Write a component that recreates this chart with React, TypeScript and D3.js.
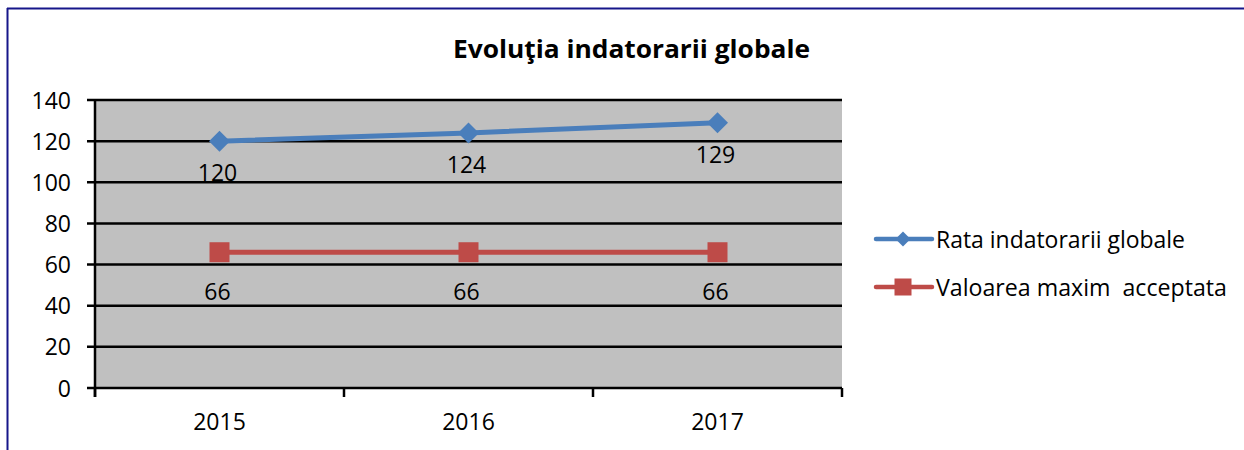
import React from "react";
import * as d3 from "d3";

const categories = ["2015", "2016", "2017"];
const rataValues = [120, 124, 129];
const maximValues = [66, 66, 66];
const yTicks = [0, 20, 40, 60, 80, 100, 120, 140];
const titleText = "Evoluţia indatorarii globale";
const seriesNames = ["Rata indatorarii globale", "Valoarea maxim  acceptata"];

const BLUE = "#4A7EBB";
const RED = "#BE4B48";
const FONT = "'Open Sans', 'Noto Sans', sans-serif";

export default function App() {
  const W = 1244, H = 450;
  const left = 95, right = 842, top = 100, bottom = 388;
  const x = d3.scaleBand<string>().domain(categories).range([left, right]).padding(0);
  const y = d3.scaleLinear().domain([0, 140]).range([bottom, top]);
  const cx = (c: string) => (x(c) ?? 0) + x.bandwidth() / 2;
  const line = d3.line<number>().x((_, i) => cx(categories[i])).y((v) => y(v));
  const diamond = (px: number, py: number, r: number) =>
    `M${px},${py - r}L${px + r},${py}L${px},${py + r}L${px - r},${py}Z`;
  const boundaries = [...categories.map((c) => x(c) ?? 0), right];

  return (
    <svg width={W} height={H} style={{ position: "absolute", left: 0, top: 0, background: "#fff" }}
      fontFamily={FONT}>
      <rect x={0} y={0} width={W} height={H} fill="#fff" />
      {/* outer border */}
      <line x1={7.5} y1={8} x2={7.5} y2={H} stroke="#16168A" strokeWidth={2} />
      <line x1={7} y1={8.5} x2={W} y2={8.5} stroke="#16168A" strokeWidth={2} />
      {/* title */}
      <text x={631.5} y={58} textAnchor="middle" fontSize={24.5} fontWeight="bold" fill="#000"
        textLength={357} lengthAdjust="spacingAndGlyphs">{titleText}</text>
      {/* plot area */}
      <rect x={left} y={top} width={right - left} height={bottom - top} fill="#C0C0C0" />
      {yTicks.map((t) => (
        <g key={t}>
          <line x1={left - 8} x2={right} y1={y(t)} y2={y(t)} stroke="#000" strokeWidth={2.5} />
          <text x={71} y={y(t) + 8.5} textAnchor="end" fontSize={23} fill="#000">{t}</text>
        </g>
      ))}
      <line x1={left} x2={left} y1={top - 1} y2={bottom + 9} stroke="#000" strokeWidth={2.5} />
      {boundaries.map((b, i) => (
        <line key={i} x1={b} x2={b} y1={bottom} y2={bottom + 9} stroke="#000" strokeWidth={2.5} />
      ))}
      {categories.map((c) => (
        <text key={c} x={cx(c)} y={430} textAnchor="middle" fontSize={23} fill="#000">{c}</text>
      ))}
      {/* series */}
      <path d={line(maximValues) ?? ""} fill="none" stroke={RED} strokeWidth={5} />
      {maximValues.map((v, i) => (
        <rect key={i} x={cx(categories[i]) - 10} y={y(v) - 10} width={20} height={20} fill={RED} />
      ))}
      <path d={line(rataValues) ?? ""} fill="none" stroke={BLUE} strokeWidth={5} />
      {rataValues.map((v, i) => (
        <path key={i} d={diamond(cx(categories[i]), y(v), 10.5)} fill={BLUE} />
      ))}
      {rataValues.map((v, i) => (
        <text key={i} x={cx(categories[i]) - 2} y={y(v) + 40} textAnchor="middle" fontSize={23} fill="#000">{v}</text>
      ))}
      {maximValues.map((v, i) => (
        <text key={i} x={cx(categories[i]) - 2} y={y(v) + 48} textAnchor="middle" fontSize={23} fill="#000">{v}</text>
      ))}
      {/* legend */}
      <g>
        <line x1={876} x2={932} y1={239} y2={239} stroke={BLUE} strokeWidth={4.5} strokeLinecap="round" />
        <path d={diamond(903, 239, 7.5)} fill={BLUE} />
        <text x={936} y={247.5} fontSize={23} fill="#000" textLength={249} lengthAdjust="spacingAndGlyphs">{seriesNames[0]}</text>
        <line x1={876} x2={932} y1={287} y2={287} stroke={RED} strokeWidth={4.5} strokeLinecap="round" />
        <rect x={894.5} y={278.5} width={17} height={17} fill={RED} />
        <text x={936} y={295.5} fontSize={23} fill="#000" textLength={291} lengthAdjust="spacingAndGlyphs"
          style={{ whiteSpace: "pre" }} xmlSpace="preserve">{seriesNames[1]}</text>
      </g>
    </svg>
  );
}
